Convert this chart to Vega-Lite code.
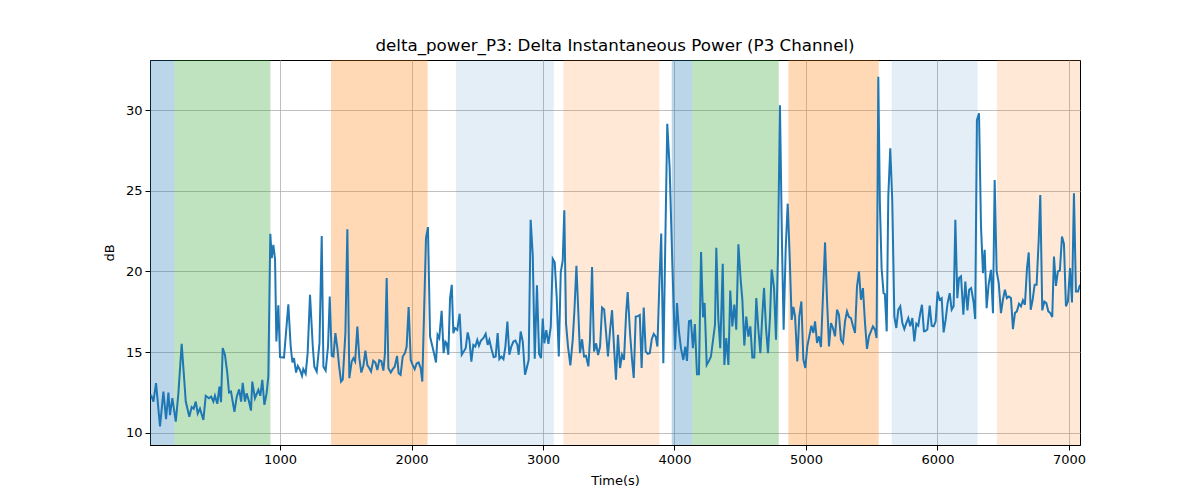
{
  "$schema": "https://vega.github.io/schema/vega-lite/v6.json",
  "width": 930,
  "height": 385,
  "autosize": "none",
  "padding": {"left": 150, "top": 60, "right": 120, "bottom": 55},
  "title": {"text": "delta_power_P3: Delta Instantaneous Power (P3 Channel)"},
  "datasets": {
    "bands": [
      {"start": 11, "end": 196, "state": "S1"},
      {"start": 196, "end": 927, "state": "S2"},
      {"start": 1388, "end": 2122, "state": "S3"},
      {"start": 2338, "end": 3082, "state": "S4"},
      {"start": 3155, "end": 3885, "state": "S5"},
      {"start": 3979, "end": 4135, "state": "S1"},
      {"start": 4135, "end": 4793, "state": "S2"},
      {"start": 4866, "end": 5553, "state": "S3"},
      {"start": 5652, "end": 6305, "state": "S4"},
      {"start": 6452, "end": 7084, "state": "S5"}
    ],
    "power": [
      {"t": 19, "v": 12.35}, {"t": 37, "v": 11.94}, {"t": 57, "v": 13.08}, {"t": 87, "v": 10.4},
      {"t": 113, "v": 12.56}, {"t": 133, "v": 10.85}, {"t": 151, "v": 12.5}, {"t": 163, "v": 11.1},
      {"t": 181, "v": 12.15}, {"t": 207, "v": 10.7}, {"t": 227, "v": 12.46}, {"t": 252, "v": 15.52},
      {"t": 283, "v": 11.94}, {"t": 310, "v": 11.0}, {"t": 328, "v": 11.6}, {"t": 343, "v": 11.5},
      {"t": 359, "v": 11.94}, {"t": 374, "v": 11.2}, {"t": 391, "v": 11.5}, {"t": 417, "v": 10.8},
      {"t": 435, "v": 12.3}, {"t": 460, "v": 12.15}, {"t": 476, "v": 12.25}, {"t": 493, "v": 11.94},
      {"t": 505, "v": 12.3}, {"t": 523, "v": 11.8}, {"t": 539, "v": 12.87}, {"t": 551, "v": 11.9},
      {"t": 564, "v": 15.25}, {"t": 581, "v": 14.84}, {"t": 599, "v": 13.7}, {"t": 612, "v": 12.5},
      {"t": 627, "v": 12.56}, {"t": 653, "v": 11.3}, {"t": 671, "v": 12.25}, {"t": 689, "v": 12.7},
      {"t": 704, "v": 11.94}, {"t": 716, "v": 13.1}, {"t": 733, "v": 11.94}, {"t": 746, "v": 12.46},
      {"t": 764, "v": 11.94}, {"t": 779, "v": 11.38}, {"t": 789, "v": 13.18}, {"t": 809, "v": 12.15},
      {"t": 835, "v": 12.67}, {"t": 850, "v": 12.3}, {"t": 865, "v": 13.29}, {"t": 881, "v": 11.74},
      {"t": 898, "v": 12.46}, {"t": 911, "v": 13.5}, {"t": 926, "v": 22.33}, {"t": 937, "v": 20.83},
      {"t": 949, "v": 21.65}, {"t": 962, "v": 20.76}, {"t": 972, "v": 15.66}, {"t": 987, "v": 17.9},
      {"t": 1000, "v": 14.7}, {"t": 1030, "v": 14.67}, {"t": 1063, "v": 17.97}, {"t": 1081, "v": 15.35},
      {"t": 1094, "v": 14.36}, {"t": 1106, "v": 14.63}, {"t": 1122, "v": 13.74}, {"t": 1135, "v": 14.15},
      {"t": 1152, "v": 13.9}, {"t": 1167, "v": 13.53}, {"t": 1177, "v": 13.95}, {"t": 1195, "v": 13.66},
      {"t": 1210, "v": 14.94}, {"t": 1228, "v": 18.55}, {"t": 1249, "v": 15.35}, {"t": 1261, "v": 14.1},
      {"t": 1279, "v": 13.8}, {"t": 1300, "v": 15.56}, {"t": 1317, "v": 22.2}, {"t": 1330, "v": 14.1},
      {"t": 1347, "v": 13.86}, {"t": 1365, "v": 15.35}, {"t": 1378, "v": 18.45}, {"t": 1393, "v": 14.77},
      {"t": 1406, "v": 14.73}, {"t": 1421, "v": 16.18}, {"t": 1436, "v": 15.25}, {"t": 1449, "v": 14.15},
      {"t": 1464, "v": 13.18}, {"t": 1477, "v": 13.3}, {"t": 1497, "v": 16.18}, {"t": 1512, "v": 22.62},
      {"t": 1527, "v": 13.39}, {"t": 1545, "v": 14.42}, {"t": 1558, "v": 14.63}, {"t": 1571, "v": 14.42},
      {"t": 1588, "v": 16.59}, {"t": 1603, "v": 14.63}, {"t": 1618, "v": 13.74}, {"t": 1634, "v": 14.15},
      {"t": 1649, "v": 15.1}, {"t": 1664, "v": 14.2}, {"t": 1679, "v": 14.0}, {"t": 1692, "v": 13.8},
      {"t": 1709, "v": 14.48}, {"t": 1725, "v": 14.36}, {"t": 1740, "v": 13.9}, {"t": 1755, "v": 14.5},
      {"t": 1771, "v": 14.44}, {"t": 1786, "v": 13.86}, {"t": 1798, "v": 14.94}, {"t": 1811, "v": 19.59},
      {"t": 1824, "v": 14.0}, {"t": 1842, "v": 13.74}, {"t": 1857, "v": 13.95}, {"t": 1872, "v": 14.1},
      {"t": 1890, "v": 14.77}, {"t": 1902, "v": 13.7}, {"t": 1917, "v": 13.6}, {"t": 1933, "v": 14.73},
      {"t": 1950, "v": 14.94}, {"t": 1963, "v": 15.35}, {"t": 1978, "v": 17.8}, {"t": 1994, "v": 14.52},
      {"t": 2009, "v": 14.2}, {"t": 2024, "v": 13.95}, {"t": 2039, "v": 14.3}, {"t": 2054, "v": 14.36},
      {"t": 2070, "v": 14.0}, {"t": 2082, "v": 13.18}, {"t": 2110, "v": 22.07}, {"t": 2125, "v": 22.75},
      {"t": 2141, "v": 15.97}, {"t": 2156, "v": 15.45}, {"t": 2171, "v": 14.94}, {"t": 2186, "v": 14.36},
      {"t": 2198, "v": 16.07}, {"t": 2211, "v": 15.87}, {"t": 2229, "v": 17.56}, {"t": 2244, "v": 14.94},
      {"t": 2257, "v": 15.66}, {"t": 2267, "v": 15.56}, {"t": 2280, "v": 14.84}, {"t": 2293, "v": 18.35},
      {"t": 2306, "v": 19.17}, {"t": 2318, "v": 16.18}, {"t": 2330, "v": 16.49}, {"t": 2348, "v": 16.38},
      {"t": 2366, "v": 17.38}, {"t": 2382, "v": 14.84}, {"t": 2397, "v": 15.04}, {"t": 2412, "v": 15.25},
      {"t": 2427, "v": 16.22}, {"t": 2440, "v": 15.76}, {"t": 2455, "v": 14.42}, {"t": 2470, "v": 15.45},
      {"t": 2485, "v": 15.35}, {"t": 2500, "v": 15.76}, {"t": 2513, "v": 15.4}, {"t": 2528, "v": 15.72},
      {"t": 2546, "v": 15.87}, {"t": 2564, "v": 16.14}, {"t": 2579, "v": 15.45}, {"t": 2592, "v": 15.76},
      {"t": 2610, "v": 15.14}, {"t": 2625, "v": 14.69}, {"t": 2640, "v": 14.73}, {"t": 2655, "v": 16.18},
      {"t": 2668, "v": 14.57}, {"t": 2683, "v": 14.73}, {"t": 2699, "v": 14.57}, {"t": 2714, "v": 15.35},
      {"t": 2729, "v": 16.9}, {"t": 2744, "v": 14.84}, {"t": 2759, "v": 15.35}, {"t": 2775, "v": 15.66},
      {"t": 2790, "v": 15.72}, {"t": 2805, "v": 15.45}, {"t": 2815, "v": 14.84}, {"t": 2830, "v": 16.28},
      {"t": 2846, "v": 15.66}, {"t": 2863, "v": 13.6}, {"t": 2876, "v": 14.0}, {"t": 2891, "v": 14.52},
      {"t": 2906, "v": 23.2}, {"t": 2922, "v": 21.0}, {"t": 2937, "v": 14.6}, {"t": 2954, "v": 19.15},
      {"t": 2970, "v": 14.9}, {"t": 2985, "v": 14.63}, {"t": 2998, "v": 17.09}, {"t": 3010, "v": 15.55},
      {"t": 3025, "v": 16.37}, {"t": 3041, "v": 15.51}, {"t": 3059, "v": 16.58}, {"t": 3074, "v": 20.78},
      {"t": 3089, "v": 20.57}, {"t": 3104, "v": 18.42}, {"t": 3120, "v": 14.73}, {"t": 3135, "v": 19.96},
      {"t": 3150, "v": 20.68}, {"t": 3162, "v": 23.79}, {"t": 3175, "v": 16.78}, {"t": 3190, "v": 15.35},
      {"t": 3208, "v": 14.18}, {"t": 3226, "v": 15.76}, {"t": 3239, "v": 17.6}, {"t": 3254, "v": 20.35},
      {"t": 3269, "v": 17.4}, {"t": 3281, "v": 14.94}, {"t": 3297, "v": 15.8}, {"t": 3312, "v": 14.73},
      {"t": 3327, "v": 14.77}, {"t": 3345, "v": 14.12}, {"t": 3357, "v": 15.76}, {"t": 3373, "v": 20.27},
      {"t": 3388, "v": 15.04}, {"t": 3404, "v": 15.55}, {"t": 3419, "v": 14.82}, {"t": 3434, "v": 15.35},
      {"t": 3449, "v": 17.77}, {"t": 3465, "v": 17.64}, {"t": 3480, "v": 16.17}, {"t": 3494, "v": 14.73},
      {"t": 3510, "v": 16.37}, {"t": 3525, "v": 17.6}, {"t": 3540, "v": 15.35}, {"t": 3555, "v": 13.3},
      {"t": 3570, "v": 16.07}, {"t": 3586, "v": 14.02}, {"t": 3601, "v": 14.84}, {"t": 3616, "v": 14.53},
      {"t": 3632, "v": 17.4}, {"t": 3644, "v": 18.73}, {"t": 3662, "v": 16.17}, {"t": 3677, "v": 14.53},
      {"t": 3690, "v": 13.4}, {"t": 3705, "v": 17.2}, {"t": 3721, "v": 17.23}, {"t": 3736, "v": 17.3},
      {"t": 3750, "v": 14.02}, {"t": 3766, "v": 17.77}, {"t": 3781, "v": 15.04}, {"t": 3797, "v": 14.9},
      {"t": 3812, "v": 14.94}, {"t": 3827, "v": 15.8}, {"t": 3842, "v": 16.13}, {"t": 3857, "v": 15.96},
      {"t": 3870, "v": 15.35}, {"t": 3885, "v": 19.24}, {"t": 3899, "v": 22.35}, {"t": 3915, "v": 14.32},
      {"t": 3945, "v": 29.15}, {"t": 3963, "v": 26.45}, {"t": 3983, "v": 20.64}, {"t": 4004, "v": 15.15},
      {"t": 4019, "v": 18.05}, {"t": 4034, "v": 16.29}, {"t": 4049, "v": 15.25}, {"t": 4067, "v": 14.52},
      {"t": 4082, "v": 15.35}, {"t": 4095, "v": 14.46}, {"t": 4110, "v": 16.91}, {"t": 4125, "v": 16.95},
      {"t": 4140, "v": 15.25}, {"t": 4155, "v": 16.74}, {"t": 4171, "v": 13.63}, {"t": 4186, "v": 13.63},
      {"t": 4202, "v": 21.2}, {"t": 4217, "v": 17.16}, {"t": 4229, "v": 18.05}, {"t": 4245, "v": 14.21},
      {"t": 4262, "v": 14.46}, {"t": 4277, "v": 14.73}, {"t": 4295, "v": 15.87}, {"t": 4308, "v": 16.7},
      {"t": 4318, "v": 21.47}, {"t": 4333, "v": 17.12}, {"t": 4348, "v": 15.25}, {"t": 4367, "v": 20.48},
      {"t": 4379, "v": 14.21}, {"t": 4394, "v": 15.87}, {"t": 4410, "v": 14.21}, {"t": 4424, "v": 18.82},
      {"t": 4440, "v": 16.6}, {"t": 4455, "v": 17.95}, {"t": 4470, "v": 16.39}, {"t": 4486, "v": 21.68},
      {"t": 4504, "v": 19.4}, {"t": 4516, "v": 18.26}, {"t": 4531, "v": 15.41}, {"t": 4546, "v": 17.2},
      {"t": 4562, "v": 15.97}, {"t": 4577, "v": 16.6}, {"t": 4592, "v": 14.67}, {"t": 4607, "v": 14.67},
      {"t": 4622, "v": 18.36}, {"t": 4638, "v": 16.39}, {"t": 4653, "v": 14.94}, {"t": 4668, "v": 17.32},
      {"t": 4681, "v": 18.98}, {"t": 4696, "v": 16.49}, {"t": 4711, "v": 14.94}, {"t": 4726, "v": 17.12},
      {"t": 4739, "v": 20.12}, {"t": 4757, "v": 18.98}, {"t": 4772, "v": 15.77}, {"t": 4787, "v": 21.06},
      {"t": 4802, "v": 30.3}, {"t": 4818, "v": 21.47}, {"t": 4830, "v": 16.39}, {"t": 4846, "v": 21.47},
      {"t": 4861, "v": 24.2}, {"t": 4876, "v": 20.93}, {"t": 4891, "v": 17.0}, {"t": 4904, "v": 17.8},
      {"t": 4917, "v": 17.22}, {"t": 4934, "v": 14.43}, {"t": 4949, "v": 17.22}, {"t": 4965, "v": 18.14},
      {"t": 4980, "v": 14.54}, {"t": 4995, "v": 14.02}, {"t": 5010, "v": 15.36}, {"t": 5025, "v": 15.98},
      {"t": 5041, "v": 16.64}, {"t": 5056, "v": 16.19}, {"t": 5069, "v": 16.91}, {"t": 5084, "v": 15.57},
      {"t": 5099, "v": 15.98}, {"t": 5114, "v": 15.32}, {"t": 5145, "v": 21.8}, {"t": 5160, "v": 18.25},
      {"t": 5175, "v": 15.36}, {"t": 5190, "v": 16.8}, {"t": 5205, "v": 16.5}, {"t": 5221, "v": 15.98},
      {"t": 5236, "v": 17.63}, {"t": 5251, "v": 17.32}, {"t": 5266, "v": 15.77}, {"t": 5281, "v": 15.57},
      {"t": 5297, "v": 16.91}, {"t": 5312, "v": 17.53}, {"t": 5327, "v": 17.18}, {"t": 5342, "v": 17.11},
      {"t": 5357, "v": 16.64}, {"t": 5373, "v": 16.19}, {"t": 5388, "v": 19.07}, {"t": 5403, "v": 20.0},
      {"t": 5418, "v": 18.25}, {"t": 5433, "v": 18.97}, {"t": 5449, "v": 16.8}, {"t": 5464, "v": 15.2},
      {"t": 5479, "v": 15.98}, {"t": 5494, "v": 16.29}, {"t": 5509, "v": 16.6}, {"t": 5525, "v": 16.39},
      {"t": 5537, "v": 15.88}, {"t": 5550, "v": 32.06}, {"t": 5562, "v": 24.23}, {"t": 5575, "v": 20.2},
      {"t": 5590, "v": 18.66}, {"t": 5600, "v": 18.6}, {"t": 5614, "v": 16.29}, {"t": 5626, "v": 24.64},
      {"t": 5641, "v": 27.63}, {"t": 5656, "v": 24.43}, {"t": 5672, "v": 17.22}, {"t": 5687, "v": 16.5},
      {"t": 5702, "v": 17.63}, {"t": 5717, "v": 17.84}, {"t": 5733, "v": 16.8}, {"t": 5748, "v": 16.43},
      {"t": 5763, "v": 16.8}, {"t": 5778, "v": 17.11}, {"t": 5793, "v": 16.6}, {"t": 5809, "v": 17.11},
      {"t": 5824, "v": 15.67}, {"t": 5839, "v": 16.76}, {"t": 5854, "v": 16.64}, {"t": 5869, "v": 17.42},
      {"t": 5882, "v": 17.94}, {"t": 5897, "v": 16.29}, {"t": 5905, "v": 16.29}, {"t": 5923, "v": 16.4},
      {"t": 5941, "v": 17.88}, {"t": 5956, "v": 16.64}, {"t": 5971, "v": 16.6}, {"t": 5986, "v": 16.9},
      {"t": 6001, "v": 18.76}, {"t": 6016, "v": 18.25}, {"t": 6032, "v": 18.35}, {"t": 6047, "v": 16.23},
      {"t": 6062, "v": 17.0}, {"t": 6077, "v": 18.04}, {"t": 6093, "v": 18.66}, {"t": 6108, "v": 17.63},
      {"t": 6123, "v": 17.84}, {"t": 6136, "v": 23.2}, {"t": 6151, "v": 18.35}, {"t": 6164, "v": 19.59},
      {"t": 6179, "v": 19.7}, {"t": 6197, "v": 17.32}, {"t": 6212, "v": 19.38}, {"t": 6228, "v": 17.59},
      {"t": 6241, "v": 18.87}, {"t": 6256, "v": 18.97}, {"t": 6274, "v": 18.14}, {"t": 6287, "v": 17.05},
      {"t": 6300, "v": 29.38}, {"t": 6316, "v": 29.8}, {"t": 6331, "v": 22.78}, {"t": 6346, "v": 19.9},
      {"t": 6359, "v": 21.34}, {"t": 6374, "v": 17.73}, {"t": 6389, "v": 19.18}, {"t": 6407, "v": 20.1},
      {"t": 6422, "v": 17.42}, {"t": 6435, "v": 25.67}, {"t": 6450, "v": 20.0}, {"t": 6466, "v": 19.28},
      {"t": 6483, "v": 17.42}, {"t": 6498, "v": 18.25}, {"t": 6513, "v": 18.87}, {"t": 6528, "v": 18.35},
      {"t": 6543, "v": 18.45}, {"t": 6559, "v": 18.35}, {"t": 6574, "v": 16.43}, {"t": 6589, "v": 17.42},
      {"t": 6604, "v": 17.53}, {"t": 6620, "v": 18.0}, {"t": 6635, "v": 17.84}, {"t": 6650, "v": 18.21},
      {"t": 6665, "v": 17.94}, {"t": 6681, "v": 20.21}, {"t": 6694, "v": 21.18}, {"t": 6709, "v": 17.63},
      {"t": 6724, "v": 18.25}, {"t": 6739, "v": 19.18}, {"t": 6754, "v": 19.18}, {"t": 6770, "v": 21.96},
      {"t": 6782, "v": 24.74}, {"t": 6797, "v": 17.59}, {"t": 6813, "v": 18.14}, {"t": 6828, "v": 18.04},
      {"t": 6843, "v": 17.53}, {"t": 6858, "v": 17.42}, {"t": 6873, "v": 17.18}, {"t": 6886, "v": 20.93},
      {"t": 6901, "v": 19.11}, {"t": 6916, "v": 20.0}, {"t": 6931, "v": 20.06}, {"t": 6947, "v": 22.16},
      {"t": 6962, "v": 21.71}, {"t": 6977, "v": 17.84}, {"t": 6992, "v": 18.14}, {"t": 7008, "v": 20.21},
      {"t": 7023, "v": 18.08}, {"t": 7038, "v": 24.85}, {"t": 7053, "v": 18.76}, {"t": 7069, "v": 18.76},
      {"t": 7084, "v": 19.18}
    ]
  },
  "layer": [
    {
      "data": {"name": "bands"},
      "mark": {"type": "rect", "clip": true},
      "encoding": {
        "x": {"field": "start", "type": "quantitative"},
        "x2": {"field": "end"},
        "color": {
          "field": "state", "type": "nominal", "legend": null,
          "scale": {
            "domain": ["S1", "S2", "S3", "S4", "S5"],
            "range": ["rgba(31,119,180,0.3)", "rgba(44,160,44,0.3)", "rgba(255,127,14,0.3)", "rgba(31,119,180,0.12)", "rgba(255,127,14,0.17)"]
          }
        }
      }
    },
    {
      "data": {"name": "power"},
      "mark": {"type": "line", "color": "#1f77b4", "strokeWidth": 2, "clip": true},
      "encoding": {
        "x": {
          "field": "t", "type": "quantitative",
          "scale": {"domain": [11, 7084], "nice": false, "zero": false},
          "axis": {"title": "Time(s)", "values": [1000, 2000, 3000, 4000, 5000, 6000, 7000], "format": "d", "titlePadding": 8}
        },
        "y": {
          "field": "v", "type": "quantitative",
          "scale": {"domain": [9.25, 33.1], "nice": false, "zero": false},
          "axis": {"title": "dB", "values": [10, 15, 20, 25, 30], "titlePadding": 9}
        }
      }
    }
  ],
  "config": {
    "view": {"stroke": "black", "strokeWidth": 1},
    "axis": {
      "domainColor": "black",
      "tickColor": "black",
      "tickSize": 5,
      "labelColor": "black",
      "titleColor": "black",
      "labelFont": "DejaVu Sans",
      "titleFont": "DejaVu Sans",
      "labelFontSize": 13,
      "titleFontSize": 13,
      "titleFontWeight": "normal",
      "labelPadding": 3,
      "gridColor": "#b0b0b0",
      "gridWidth": 0.8,
      "gridOpacity": 1
    },
    "title": {"font": "DejaVu Sans", "fontSize": 16.7, "fontWeight": "normal", "color": "black", "offset": 5}
  }
}
